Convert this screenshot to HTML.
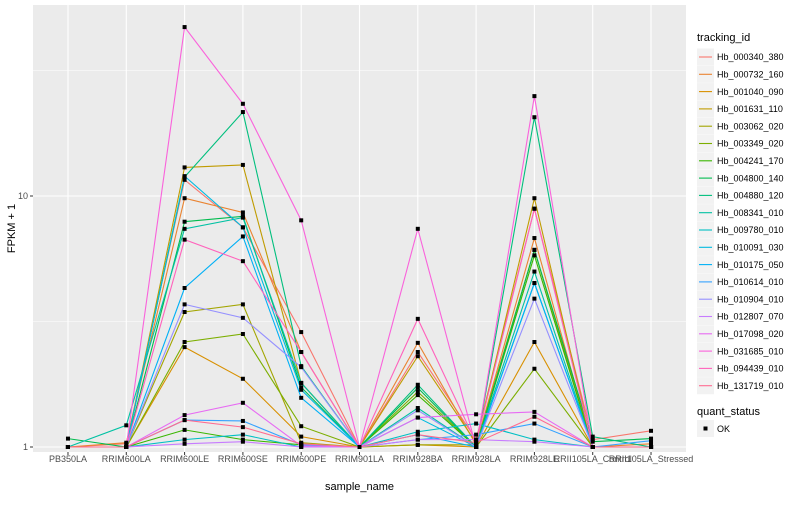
<!DOCTYPE html>
<html><head><meta charset="utf-8"><style>
body{margin:0;background:#fff;font-family:"Liberation Sans",sans-serif}
svg text{font-family:"Liberation Sans",sans-serif}
</style></head><body>
<svg id="chart" width="800" height="500"></svg>
<script>
const samples=["PB350LA","RRIM600LA","RRIM600LE","RRIM600SE","RRIM600PE","RRIM901LA","RRIM928BA","RRIM928LA","RRIM928LE","RRII105LA_Control","RRII105LA_Stressed"];
const ids=["Hb_000340_380","Hb_000732_160","Hb_001040_090","Hb_001631_110","Hb_003062_020","Hb_003349_020","Hb_004241_170","Hb_004800_140","Hb_004880_120","Hb_008341_010","Hb_009780_010","Hb_010091_030","Hb_010175_050","Hb_010614_010","Hb_010904_010","Hb_012807_070","Hb_017098_020","Hb_031685_010","Hb_094439_010","Hb_131719_010"];
const colors=["#F8766D","#EA8331","#D89000","#C09B00","#A3A500","#7CAE00","#39B600","#00BB4E","#00BF7D","#00C1A3","#00BFC4","#00BAE0","#00B0F6","#35A2FF","#9590FF","#C77CFF","#E76BF3","#FA62DB","#FF62BC","#FF6C91"];
const s1=[1,1.03,11.6,7.5,2.87,1,2.39,1.07,8.9,1.07,1.16];
const s2=[1,1.04,9.8,8.6,2.39,1,2.6,1.02,6.8,1,1.03];
const s3=[1,1,2.5,1.87,1.10,1,1.02,1,2.62,1,1];
const s4=[1,1,13.0,13.3,1.8,1,2.3,1.04,9.8,1,1];
const s5=[1,1,3.45,3.7,1.04,1,1.02,1.02,6.1,1,1];
const s6=[1,1,2.62,2.82,1.21,1,1.66,1,2.05,1,1];
const s7=[1,1,1.17,1.07,1.02,1,1.61,1,5.8,1,1];
const s8=[1.08,1,7.9,8.3,1.73,1,1.72,1,6.1,1.05,1.08];
const s9=[1,1,11.9,21.6,2.1,1,1.77,1,20.6,1.10,1];
const s10=[1,1.22,7.4,8.2,1.8,1,1.43,1,5.0,1,1];
const s11=[1,1,1.07,1.12,1,1,1.15,1.24,1.07,1,1];
const s12=[1,1,12.0,7.5,1.69,1,1.31,1,4.5,1,1];
const s13=[1,1,4.3,6.9,1.57,1,1.12,1,4.5,1,1];
const s14=[1,1,1.28,1.27,1.02,1,1.07,1.12,1.24,1,1.06];
const s15=[1,1,3.7,3.27,2.08,1,1.40,1,3.9,1,1];
const s16=[1,1,1.03,1.05,1,1,1.07,1.07,1.05,1,1];
const s17=[1,1,1.34,1.5,1.01,1,1.31,1.35,1.38,1,1];
const s18=[1,1,47.1,23.3,8.0,1,7.4,1,25.0,1,1];
const s19=[1,1,6.7,5.5,2.39,1,3.24,1.04,8.9,1,1];
const s20=[1,1,1.28,1.20,1.03,1,1.12,1.04,1.32,1,1];
const series=[s1,s2,s3,s4,s5,s6,s7,s8,s9,s10,s11,s12,s13,s14,s15,s16,s17,s18,s19,s20];
const yTicks=[1,10];
const yTickLabels=["1","10"];

const NS="http://www.w3.org/2000/svg";
const svg=document.getElementById("chart");
function mk(tag,attrs,parent){const e=document.createElementNS(NS,tag);for(const k in attrs)e.setAttribute(k,attrs[k]);(parent||svg).appendChild(e);return e;}
const PL=33,PR=686,PT=5,PB=452;
const xStep=(PR-PL)/(samples.length-1+1.2);
function xs(i){return PL+xStep*0.6+i*xStep;}
function ys(v){return 447-Math.log10(v)*251;}

const panel=mk("rect",{x:PL,y:PT,width:PR-PL,height:PB-PT,fill:"#ebebeb"});


[Math.sqrt(10),Math.sqrt(1000)].forEach(v=>{mk("line",{x1:PL,x2:PR,y1:ys(v),y2:ys(v),stroke:"#fff","stroke-width":0.6});});
yTicks.forEach((v,i)=>{
  mk("line",{x1:PL,x2:PR,y1:ys(v),y2:ys(v),stroke:"#fff","stroke-width":1.1});
  mk("line",{x1:PL-3,x2:PL,y1:ys(v),y2:ys(v),stroke:"#333","stroke-width":1});
  const t=mk("text",{x:PL-5,y:ys(v)+3,"text-anchor":"end","font-size":9,fill:"#4d4d4d"});
  t.textContent=yTickLabels[i];
  
  
});
samples.forEach((s,i)=>{
  mk("line",{x1:xs(i),x2:xs(i),y1:PT,y2:PB,stroke:"#fff","stroke-width":1.1});
  mk("line",{x1:xs(i),x2:xs(i),y1:PB,y2:PB+3,stroke:"#333","stroke-width":1});
  const t=mk("text",{x:xs(i),y:PB+10,"text-anchor":"middle","font-size":9,fill:"#4d4d4d"});
  t.textContent=s;
  
  
});
series.forEach((vals,k)=>{
  const p=mk("polyline",{points:vals.map((v,i)=>xs(i)+","+ys(v)).join(" "),fill:"none",stroke:colors[k],"stroke-width":1.1});
  
  
});
series.forEach((vals,k)=>{
  vals.forEach((v,i)=>{
    const r=mk("rect",{x:xs(i)-2,y:ys(v)-2,width:4,height:4,fill:"#000"});
    
    
  });
});
const xt=mk("text",{x:(PL+PR)/2,y:490,"text-anchor":"middle","font-size":11,fill:"#000"});
xt.textContent="sample_name";


const yt=mk("text",{x:0,y:0,transform:"translate(15,"+((PT+PB)/2)+") rotate(-90)","text-anchor":"middle","font-size":11,fill:"#000"});
yt.textContent="FPKM + 1";


const lt=mk("text",{x:697,y:41,"font-size":11,fill:"#000"});
lt.textContent="tracking_id";


ids.forEach((id,k)=>{
  const y=57+k*17.3;
  const g=mk("g",{});
  
  
  mk("rect",{x:697,y:y-8.5,width:17,height:17,fill:"#f2f2f2"},g);
  mk("line",{x1:699,x2:712,y1:y,y2:y,stroke:colors[k],"stroke-width":1.1},g);
  const t=mk("text",{x:717,y:y+3.2,"font-size":9,fill:"#000"},g);
  t.textContent=id;
});
const qt=mk("text",{x:697,y:415,"font-size":11,fill:"#000"});
qt.textContent="quant_status";


const qg=mk("g",{});


mk("rect",{x:697,y:420,width:17,height:17,fill:"#f2f2f2"},qg);
mk("rect",{x:703.5,y:426.5,width:4,height:4,fill:"#000"},qg);
const ok=mk("text",{x:717,y:432,"font-size":9,fill:"#000"},qg);
ok.textContent="OK";
</script>
</body></html>
